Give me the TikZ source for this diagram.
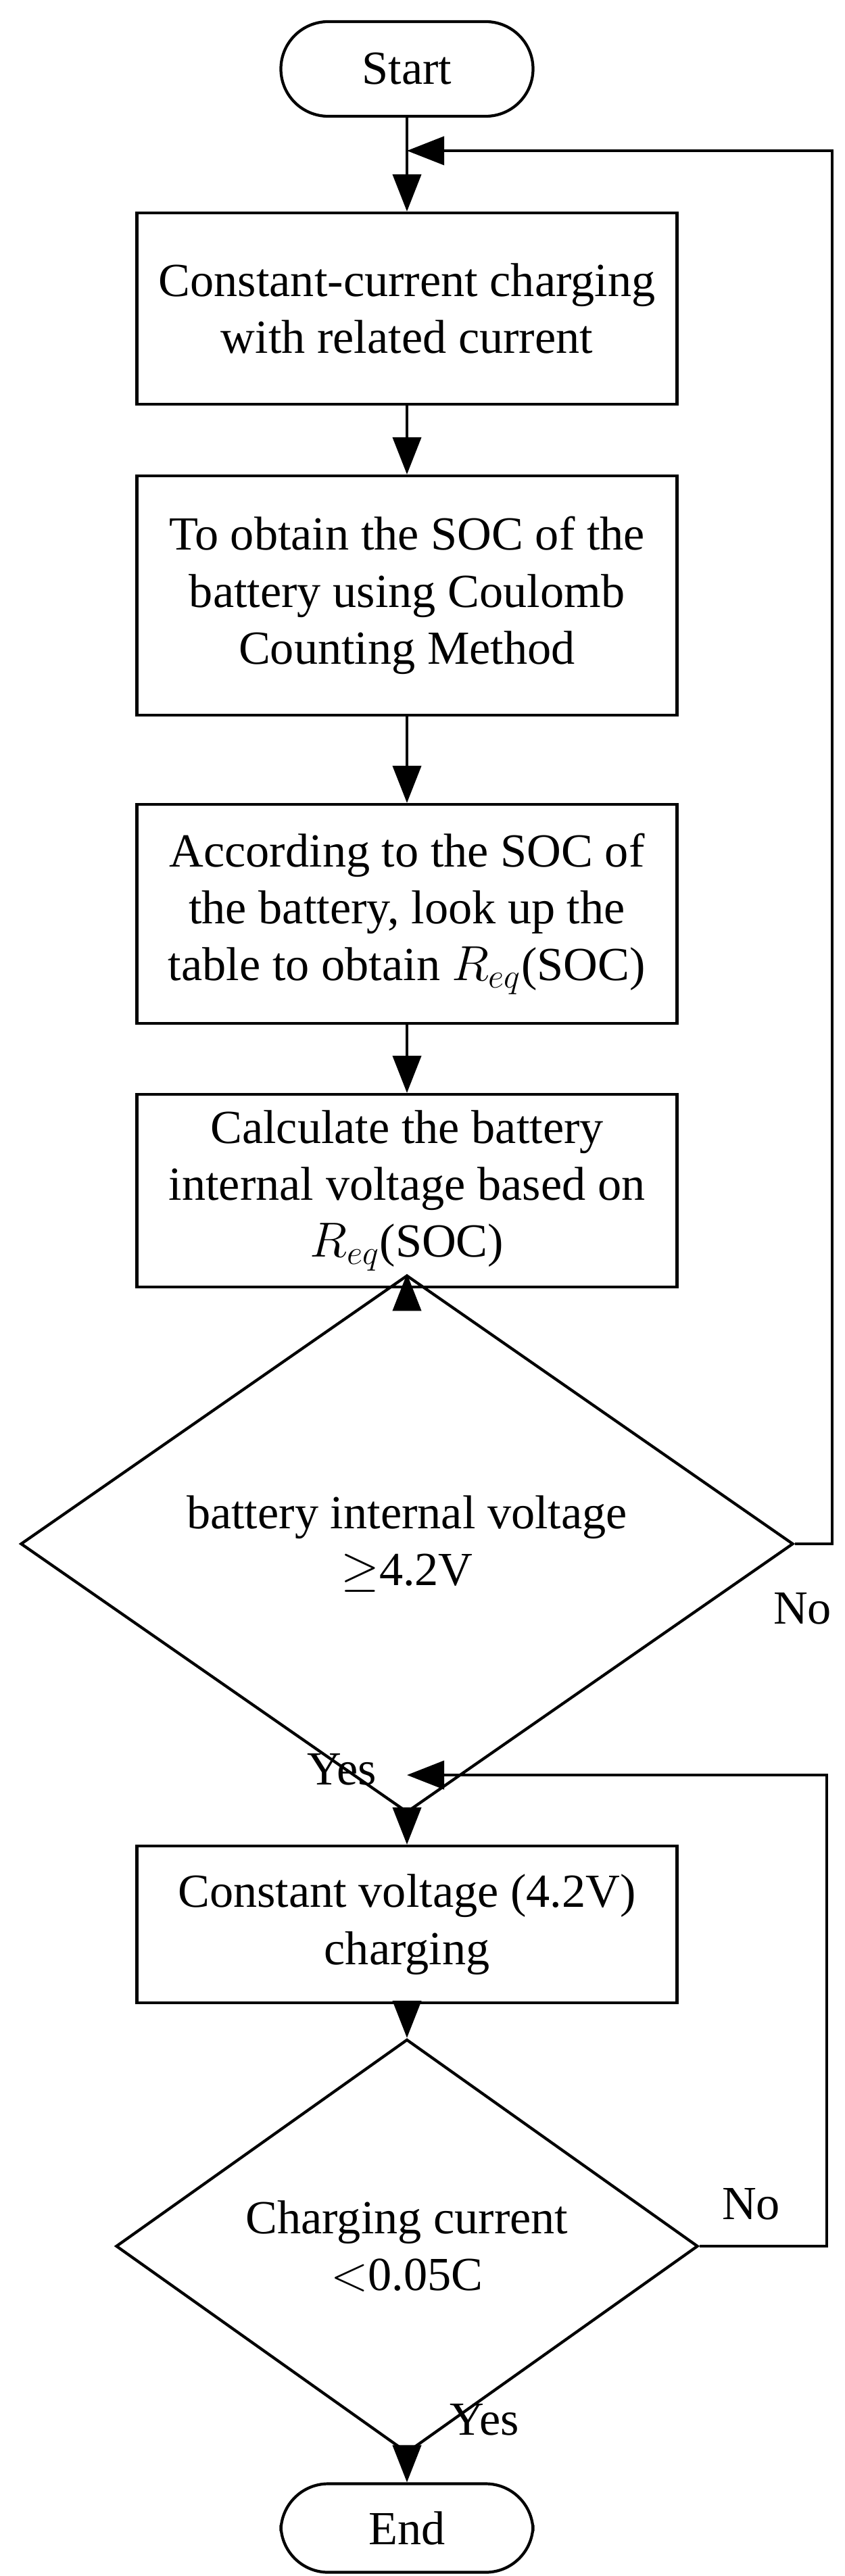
\documentclass[tikz,border=0pt]{standalone}
\usepackage{fontspec}
\setmainfont{Liberation Serif}
\usetikzlibrary{shapes.geometric,arrows.meta}
\tikzset{
    terminal/.style={draw,line width=1.2pt,rounded corners=0.7cm,minimum width=3.73cm,minimum height=1.4cm,font=\fontsize{20}{24}\selectfont},
    process/.style={draw,line width=1.2pt,minimum width=7.99cm,align=center,font=\fontsize{20}{24}\selectfont},
    decision/.style={draw,diamond,line width=1.2pt,inner sep=0pt,align=center,font=\fontsize{20}{24}\selectfont},
    flow/.style={line width=1.2pt,-{Triangle[length=0.55cm,width=0.42cm]}},
    lbl/.style={font=\fontsize{20}{24}\selectfont}
}
\begin{document}
\begin{tikzpicture}
    \useasboundingbox (0,0) rectangle (12.49,-38.11);
    % nodes
    \node[terminal] (start) at (6.02,-1.02) {Start};
    \node[process,minimum height=2.83cm] (cc) at (6.02,-4.565) {Constant-current charging\\with related current};
    \node[process,minimum height=3.54cm] (soc) at (6.02,-8.81) {To obtain the SOC of the\\battery using Coulomb\\Counting Method};
    \node[process,minimum height=3.24cm] (req) at (6.02,-13.52) {According to the SOC of\\the battery, look up the\\table to obtain $R_{eq}$(SOC)};
    \node[process,minimum height=2.85cm] (calc) at (6.02,-17.615) {Calculate the battery\\internal voltage based on\\$R_{eq}$(SOC)};
    \node[decision,minimum width=11.43cm,minimum height=4.86cm] (d1) at (6.02,-22.84) {battery internal voltage\\$\geq$4.2V};
    \node[process,minimum height=2.32cm] (cv) at (6.02,-28.47) {Constant voltage (4.2V)\\charging};
    \node[decision,minimum width=8.61cm,minimum height=3.98cm] (d2) at (6.02,-33.23) {Charging current\\$<$0.05C};
    \node[terminal,minimum height=1.31cm] (end) at (6.02,-37.4) {End};
    \coordinate (j1) at (6.02,-2.23);
    \coordinate (j2) at (6.02,-26.26);
    \coordinate (r1) at (12.31,-2.23);
    \coordinate (r2) at (12.23,-26.26);

    % arrows
    \draw[flow] (start) -- (cc);
    \draw[flow] (cc) -- (soc);
    \draw[flow] (soc) -- (req);
    \draw[flow] (req) -- (calc);
    \draw[flow] (calc) -- (d1);
    \draw[flow] (d1) -- (cv);
    \draw[flow] (cv) -- (d2);
    \draw[flow] (d2) -- (end);
    \draw[flow] (d1.east) -| (r1) -- (j1);
    \draw[flow] (d2.east) -| (r2) -- (j2);

    % labels
    \node[lbl] (no1) at (11.87,-23.8) {No};
    \node[lbl] (yes1) at (5.06,-26.18) {Yes};
    \node[lbl] (no2) at (11.11,-32.61) {No};
    \node[lbl] (yes2) at (7.17,-35.8) {Yes};
\end{tikzpicture}
\end{document}
